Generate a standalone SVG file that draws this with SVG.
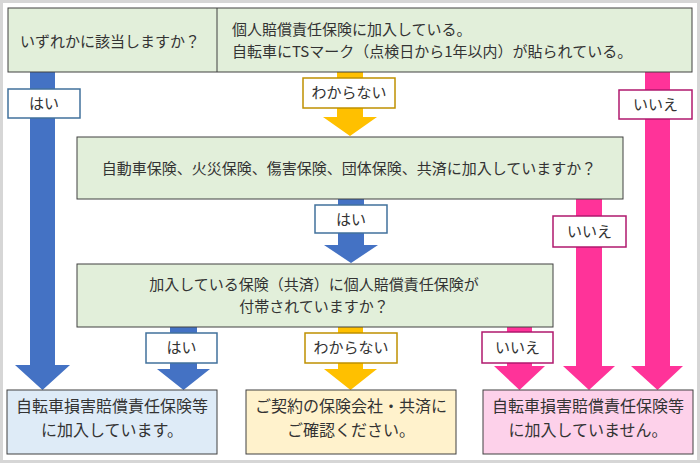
<svg xmlns="http://www.w3.org/2000/svg" width="700" height="463" viewBox="0 0 700 463">
<style>
  text { font-family: "Noto Sans CJK JP", "Noto Sans", sans-serif; fill: #333333; font-size: 15px; }
  .q { fill: #e2efda; stroke: #404040; stroke-width: 1; }
  .lbl { fill: #ffffff; stroke-width: 1.5; }
  .blue { fill: #4472c4; }
  .orange { fill: #ffc000; }
  .pink { fill: #ff3399; }
  .lb { stroke: #41719c; }
  .lo { stroke: #bf9000; }
  .lp { stroke: #b0186e; }
  .c { text-anchor: middle; }
  .big { font-size: 16px; }
</style>
<rect x="1.5" y="1.5" width="697" height="460" fill="#ffffff" stroke="#d6d6d6" stroke-width="3"/>

<g id="connectors">
  <!-- top: はい (blue, left) -->
  <path class="blue" d="M30,72 H55 V365 H70 L42.5,390 L15,365 H30 Z"/>
  <!-- top: わからない (orange) -->
  <path class="orange" d="M337,72 H363 V117 H377 L350,136 L323,117 H337 Z"/>
  <!-- top: いいえ (pink, right) -->
  <path class="pink" d="M645,72 H670 V366 H683 L657.5,390 L631,366 H645 Z"/>
  <!-- middle: はい (blue) -->
  <path class="blue" d="M338,199 H364 V245 H378 L351,263 L324,245 H338 Z"/>
  <!-- middle: いいえ (pink) -->
  <path class="pink" d="M576,199 H602 V366 H615 L589,390 L563,366 H576 Z"/>
  <!-- bottom: はい (blue) -->
  <path class="blue" d="M170,327 H197 V369 H210 L183.5,390 L157,369 H170 Z"/>
  <!-- bottom: わからない (orange) -->
  <path class="orange" d="M338,327 H363 V369 H377 L350.5,390 L324,369 H338 Z"/>
  <!-- bottom: いいえ (pink) -->
  <path class="pink" d="M507,327 H532 V366 H545 L519.5,390 L494,366 H507 Z"/>

  <rect class="lbl lb" x="8" y="89" width="72" height="29"/>
  <text class="c" x="44" y="109">はい</text>
  <rect class="lbl lo" x="303" y="78" width="92" height="30"/>
  <text class="c" x="349" y="98">わからない</text>
  <rect class="lbl lp" x="619" y="90" width="73" height="29"/>
  <text class="c" x="655.5" y="110">いいえ</text>

  <rect class="lbl lb" x="315" y="205" width="72" height="28"/>
  <text class="c" x="351" y="224.5">はい</text>
  <rect class="lbl lp" x="553" y="216" width="73" height="31"/>
  <text class="c" x="589.5" y="237">いいえ</text>

  <rect class="lbl lb" x="146" y="333" width="71" height="30"/>
  <text class="c" x="181.5" y="353">はい</text>
  <rect class="lbl lo" x="305" y="333" width="92" height="30"/>
  <text class="c" x="351" y="353">わからない</text>
  <rect class="lbl lp" x="482" y="332" width="71" height="31"/>
  <text class="c" x="517.5" y="353">いいえ</text>
</g>

<g id="q1">
  <rect class="q" x="8" y="8" width="684" height="64"/>
  <line x1="217" y1="8" x2="217" y2="72" stroke="#404040" stroke-width="1"/>
  <text x="20" y="46.5">いずれかに該当しますか？</text>
  <text x="232" y="35"><tspan x="232" y="35">個人賠償責任保険に加入している。</tspan><tspan x="232" y="57">自転車にTSマーク（点検日から1年以内）が貼られている。</tspan></text>
</g>

<g id="q2">
  <rect class="q" x="77" y="137" width="546" height="62"/>
  <text class="c" x="349" y="174">自動車保険、火災保険、傷害保険、団体保険、共済に加入していますか？</text>
</g>

<g id="q3">
  <rect class="q" x="77" y="264" width="476" height="63"/>
  <text class="c" x="314" y="290"><tspan x="314" y="290">加入している保険（共済）に個人賠償責任保険が</tspan><tspan x="314" y="312">付帯されていますか？</tspan></text>
</g>

<g id="r-yes">
  <rect x="7" y="390" width="210" height="64" fill="#deebf7" stroke="#404040" stroke-width="1"/>
  <text class="c big" x="112" y="412"><tspan x="112" y="412">自転車損害賠償責任保険等</tspan><tspan x="112" y="435.5">に加入しています。</tspan></text>
</g>

<g id="r-unknown">
  <rect x="246" y="390" width="210" height="64" fill="#fff2cc" stroke="#404040" stroke-width="1"/>
  <text class="c big" x="351" y="412"><tspan x="351" y="412">ご契約の保険会社・共済に</tspan><tspan x="351" y="435.5">ご確認ください。</tspan></text>
</g>

<g id="r-no">
  <rect x="483" y="390" width="210" height="64" fill="#fdd1ea" stroke="#404040" stroke-width="1"/>
  <text class="c big" x="588" y="412"><tspan x="588" y="412">自転車損害賠償責任保険等</tspan><tspan x="588" y="435.5">に加入していません。</tspan></text>
</g>
</svg>
